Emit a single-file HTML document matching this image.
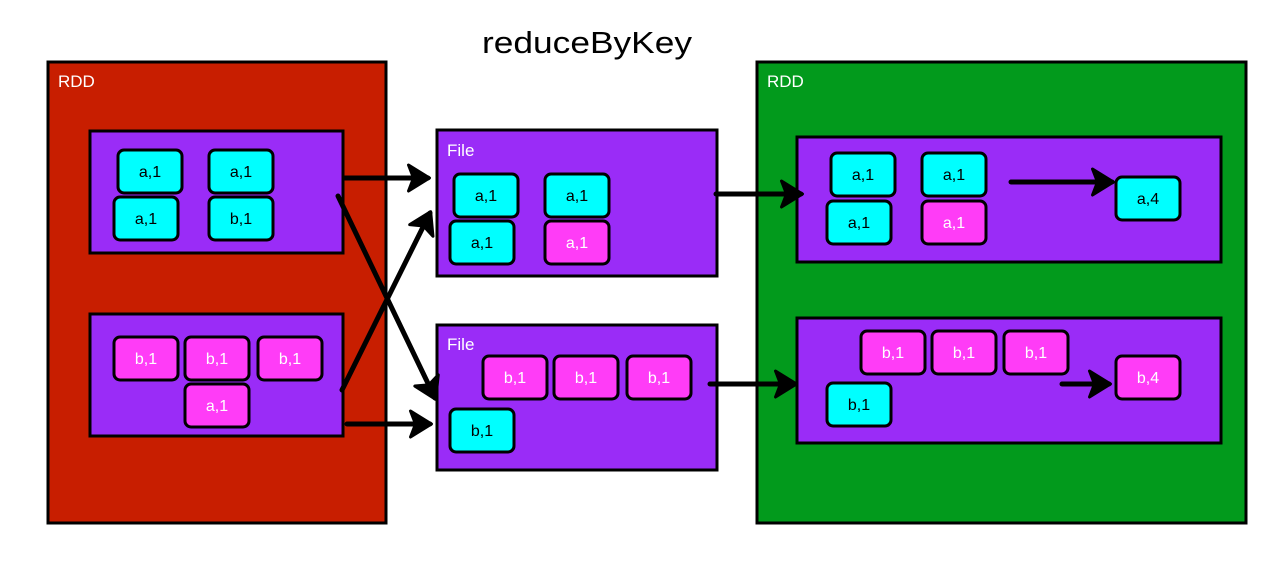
<!DOCTYPE html>
<html><head><meta charset="utf-8"><style>
html,body{margin:0;padding:0;background:#fff;width:1264px;height:562px;overflow:hidden}
svg{display:block}
text{font-family:"Liberation Sans","DejaVu Sans",sans-serif}
</style></head><body>
<svg width="1264" height="562" viewBox="0 0 1264 562" xmlns="http://www.w3.org/2000/svg">
<defs>
<marker id="ah" markerWidth="6" markerHeight="6" refX="4.5" refY="3" orient="auto" markerUnits="strokeWidth">
<path d="M0.6,0.4 L4.8,3 L0.6,5.6 L1.6,3 Z" fill="#000" stroke="#000" stroke-width="0.6" stroke-linejoin="round"/>
</marker>
</defs>
<text x="482" y="53" font-size="31" textLength="210" lengthAdjust="spacingAndGlyphs" fill="#000">reduceByKey</text>
<rect x="48" y="62" width="338" height="461" fill="#c81e00" stroke="#000" stroke-width="3"/>
<text x="58" y="87" font-size="17" fill="#fff">RDD</text>
<rect x="757" y="62" width="489" height="461" fill="#029a1c" stroke="#000" stroke-width="3"/>
<text x="767" y="87" font-size="17" fill="#fff">RDD</text>

<g fill="#9a2cf7" stroke="#000" stroke-width="3">
<rect x="90" y="131" width="253" height="122"/>
<rect x="90" y="314" width="253" height="122"/>
<rect x="437" y="130" width="280" height="146"/>
<rect x="437" y="325" width="280" height="145"/>
<rect x="797" y="137" width="424" height="125"/>
<rect x="797" y="318" width="424" height="125"/>
</g>
<text x="447" y="156" font-size="17" fill="#fff">File</text>
<text x="447" y="350" font-size="17" fill="#fff">File</text>

<g stroke="#000" stroke-width="3">
<g fill="#00ffff">
<rect x="118" y="150" width="64" height="43" rx="6"/>
<rect x="209" y="150" width="64" height="43" rx="6"/>
<rect x="114" y="197" width="64" height="43" rx="6"/>
<rect x="209" y="197" width="64" height="43" rx="6"/>
<rect x="454" y="174" width="64" height="43" rx="6"/>
<rect x="545" y="174" width="64" height="43" rx="6"/>
<rect x="450" y="221" width="64" height="43" rx="6"/>
<rect x="450" y="409" width="64" height="43" rx="6"/>
<rect x="831" y="153" width="64" height="43" rx="6"/>
<rect x="922" y="153" width="64" height="43" rx="6"/>
<rect x="827" y="201" width="64" height="43" rx="6"/>
<rect x="1116" y="177" width="64" height="43" rx="6"/>
<rect x="827" y="383" width="64" height="43" rx="6"/>
</g>
<g fill="#ff3cf7">
<rect x="114" y="337" width="64" height="43" rx="6"/>
<rect x="185" y="337" width="64" height="43" rx="6"/>
<rect x="258" y="337" width="64" height="43" rx="6"/>
<rect x="185" y="384" width="64" height="43" rx="6"/>
<rect x="545" y="221" width="64" height="43" rx="6"/>
<rect x="483" y="356" width="64" height="43" rx="6"/>
<rect x="554" y="356" width="64" height="43" rx="6"/>
<rect x="627" y="356" width="64" height="43" rx="6"/>
<rect x="922" y="201" width="64" height="43" rx="6"/>
<rect x="861" y="331" width="64" height="43" rx="6"/>
<rect x="932" y="331" width="64" height="43" rx="6"/>
<rect x="1004" y="331" width="64" height="43" rx="6"/>
<rect x="1116" y="356" width="64" height="43" rx="6"/>
</g>
</g>

<g font-size="16" text-anchor="middle">
<g fill="#000">
<text x="150" y="177">a,1</text>
<text x="241" y="177">a,1</text>
<text x="146" y="224">a,1</text>
<text x="241" y="224">b,1</text>
<text x="486" y="201">a,1</text>
<text x="577" y="201">a,1</text>
<text x="482" y="248">a,1</text>
<text x="482" y="436">b,1</text>
<text x="863" y="180">a,1</text>
<text x="954" y="180">a,1</text>
<text x="859" y="228">a,1</text>
<text x="1148" y="204">a,4</text>
<text x="859" y="410">b,1</text>
</g>
<g fill="#fff">
<text x="146" y="364">b,1</text>
<text x="217" y="364">b,1</text>
<text x="290" y="364">b,1</text>
<text x="217" y="411">a,1</text>
<text x="577" y="248">a,1</text>
<text x="515" y="383">b,1</text>
<text x="586" y="383">b,1</text>
<text x="659" y="383">b,1</text>
<text x="954" y="228">a,1</text>
<text x="893" y="358">b,1</text>
<text x="964" y="358">b,1</text>
<text x="1036" y="358">b,1</text>
<text x="1148" y="383">b,4</text>
</g>
</g>

<g stroke="#000" stroke-width="5" stroke-linecap="round" fill="none" marker-end="url(#ah)">
<line x1="344" y1="178" x2="428" y2="178"/>
<line x1="338" y1="196" x2="435" y2="398"/>
<line x1="342" y1="390" x2="430" y2="213"/>
<line x1="347" y1="424" x2="430" y2="424"/>
<line x1="716" y1="194" x2="801" y2="194"/>
<line x1="710" y1="384" x2="795" y2="384"/>
<line x1="1011" y1="182" x2="1112" y2="182"/>
<line x1="1062" y1="384" x2="1109" y2="384"/>
</g>
</svg>
</body></html>
